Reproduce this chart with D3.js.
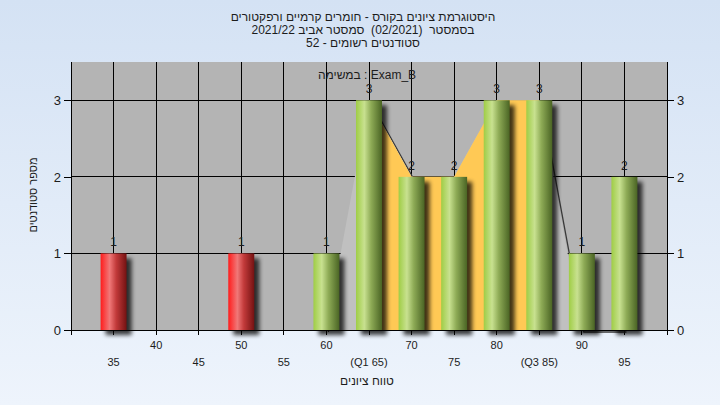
<!DOCTYPE html>
<html>
<head>
<meta charset="utf-8">
<script src="https://cdn.jsdelivr.net/npm/d3@7/dist/d3.min.js"></script>
<style>
  html, body { margin: 0; padding: 0; }
  body { width: 720px; height: 405px; overflow: hidden; }
  text { font-family: "Liberation Sans", Arial, "DejaVu Sans", sans-serif; fill: #1c1c1c; }
</style>
</head>
<body>
<svg id="chart" width="720" height="405"></svg>
<script>
// ---------- data ----------
const titleLines = [
  "היסטוגרמת ציונים בקורס - חומרים קרמיים ורפקטורים",
  "בסמסטר  (02/2021)  סמסטר אביב 2021/22",
  "סטודנטים רשומים - 52"
];
const categories = [35, 40, 45, 50, 55, 60, 65, 70, 75, 80, 85, 90, 95];
const counts     = [1, 0, 0, 1, 0, 1, 3, 2, 2, 3, 3, 1, 2];
const xTickLabels = ["35", "40", "45", "50", "55", "60", "(Q1 65)", "70", "75", "80", "(Q3 85)", "90", "95"];
const areaCategories = [60, 65, 70, 75, 80, 85, 90, 95];
const areaValues     = [0, 3, 2, 2, 3, 3, 0, 0];
const q1 = 65, q3 = 85;
const passMark = 55;
const yTicks = [0, 1, 2, 3];
const xTitle = "טווח ציונים";
const yTitle = "מספר סטודנטים";
const noteText = "במשימה : Exam_B";

// ---------- layout ----------
const svg = d3.select("#chart");
const W = 720, H = 405;
const plot = { left: 71, right: 667, top: 62, bottom: 330 };

const x = d3.scaleLinear().domain([30, 100]).range([plot.left, plot.right]);
const y = d3.scaleLinear().domain([0, 3.5]).range([plot.bottom, plot.top]);
const step = x(40) - x(35);
const barW = step * 0.61;

const defs = svg.append("defs");
const bg = defs.append("linearGradient").attr("id", "bg").attr("x1", 0).attr("y1", 0).attr("x2", 0).attr("y2", 1);
bg.append("stop").attr("offset", "0%").attr("stop-color", "#d4e2f4");
bg.append("stop").attr("offset", "100%").attr("stop-color", "#eef4fc");

function cyl(id, stops) {
  const g = defs.append("linearGradient").attr("id", id).attr("x1", 0).attr("y1", 0).attr("x2", 1).attr("y2", 0);
  stops.forEach(s => g.append("stop").attr("offset", s[0]).attr("stop-color", s[1]));
}
cyl("gGreen", [["0%", "#9fcd45"], ["32%", "#c8e190"], ["58%", "#8eab56"], ["100%", "#4a6424"]]);
cyl("gRed", [["0%", "#ff1c1c"], ["35%", "#f07878"], ["60%", "#c23a3a"], ["100%", "#741212"]]);

const sh = defs.append("filter").attr("id", "shadow").attr("x", "-50%").attr("y", "-20%").attr("width", "200%").attr("height", "140%");
sh.append("feGaussianBlur").attr("stdDeviation", 2);

defs.append("clipPath").attr("id", "plotClip").append("rect")
  .attr("x", plot.left).attr("y", plot.top).attr("width", plot.right - plot.left).attr("height", plot.bottom - plot.top);
defs.append("clipPath").attr("id", "iqrClip").append("rect")
  .attr("x", x(q1)).attr("y", plot.top).attr("width", x(q3) - x(q1)).attr("height", plot.bottom - plot.top);

svg.append("rect").attr("width", W).attr("height", H).attr("fill", "url(#bg)");
svg.append("rect").attr("x", plot.left).attr("y", plot.top)
  .attr("width", plot.right - plot.left).attr("height", plot.bottom - plot.top).attr("fill", "#b4b4b4");

// gridlines
const grid = svg.append("g").attr("stroke", "#000").attr("stroke-width", 1).attr("shape-rendering", "crispEdges");
yTicks.filter(t => t > 0).forEach(t => {
  grid.append("line").attr("x1", plot.left).attr("x2", plot.right).attr("y1", y(t)).attr("y2", y(t));
});
categories.forEach(c => {
  grid.append("line").attr("x1", x(c)).attr("x2", x(c)).attr("y1", plot.top).attr("y2", plot.bottom + 5);
});

// area series with shadow line
const areaData = areaCategories.map((c, i) => ({ c, v: areaValues[i] }));
const lineGen = d3.line().x(d => x(d.c)).y(d => y(d.v));
const areaGen = d3.area().x(d => x(d.c)).y0(y(0)).y1(d => y(d.v));
svg.append("path").attr("d", lineGen(areaData)).attr("transform", "translate(2,2)")
  .attr("fill", "none").attr("stroke", "#3a3a3a").attr("stroke-width", 1.3);
svg.append("path").attr("d", areaGen(areaData)).attr("fill", "#c0c0c0");
svg.append("path").attr("d", areaGen(areaData)).attr("fill", "#ffc955").attr("clip-path", "url(#iqrClip)");

// bars
const barData = categories.map((c, i) => ({ c, v: counts[i] })).filter(d => d.v > 0);
svg.append("g").selectAll("rect").data(barData).join("rect")
  .attr("x", d => x(d.c) - barW / 2 + 5).attr("y", d => y(d.v) + 5)
  .attr("width", barW).attr("height", d => y(0) - y(d.v))
  .attr("fill", "#000").attr("opacity", 0.75).attr("filter", "url(#shadow)");
svg.append("g").selectAll("rect").data(barData).join("rect")
  .attr("x", d => x(d.c) - barW / 2).attr("y", d => y(d.v))
  .attr("width", barW).attr("height", d => y(0) - y(d.v))
  .attr("fill", d => d.c < passMark ? "url(#gRed)" : "url(#gGreen)");

// value labels
svg.append("g").selectAll("text").data(barData).join("text")
  .attr("x", d => x(d.c)).attr("y", d => y(d.v) - 7)
  .attr("text-anchor", "middle").attr("font-size", 12).text(d => d.v);

// axes lines
const ax = svg.append("g").attr("stroke", "#000").attr("stroke-width", 1).attr("shape-rendering", "crispEdges");
ax.append("line").attr("x1", plot.left).attr("x2", plot.left).attr("y1", plot.top).attr("y2", plot.bottom + 5);
ax.append("line").attr("x1", plot.right).attr("x2", plot.right).attr("y1", plot.top).attr("y2", plot.bottom + 5);
ax.append("line").attr("x1", plot.left).attr("x2", plot.right).attr("y1", plot.bottom).attr("y2", plot.bottom);

// y axes via d3
const yLeft = d3.axisLeft(y).tickValues(yTicks).tickSize(7).tickPadding(3).tickFormat(d3.format("d"));
const yRight = d3.axisRight(y).tickValues(yTicks).tickSize(7).tickPadding(3).tickFormat(d3.format("d"));
const gl = svg.append("g").attr("transform", `translate(${plot.left},0)`).call(yLeft);
const gr = svg.append("g").attr("transform", `translate(${plot.right},0)`).call(yRight);
[gl, gr].forEach(g => {
  g.select(".domain").remove();
  g.selectAll("line").attr("stroke", "#000").attr("shape-rendering", "crispEdges");
  g.selectAll("text").attr("font-size", 13).attr("fill", "#1c1c1c")
    .attr("font-family", '"Liberation Sans", Arial, sans-serif');
});

// x tick labels (staggered)
svg.append("g").selectAll("text").data(categories).join("text")
  .attr("x", d => x(d))
  .attr("y", (d, i) => i % 2 === 1 ? 349 : 366)
  .attr("text-anchor", "middle").attr("font-size", 11)
  .text((d, i) => xTickLabels[i]);

// titles
svg.append("g").selectAll("text").data(titleLines).join("text")
  .attr("x", 363).attr("y", (d, i) => 21 + i * 13)
  .attr("text-anchor", "middle").attr("direction", "rtl")
  .style("white-space", "pre").attr("font-size", 12).text(d => d);

svg.append("text").attr("x", 367).attr("y", 385).attr("text-anchor", "middle")
  .attr("direction", "rtl").attr("font-size", 12).text(xTitle);
svg.append("text").attr("transform", "translate(37,195) rotate(-90)")
  .attr("text-anchor", "middle").attr("direction", "rtl").attr("font-size", 11).text(yTitle);

svg.append("text").attr("x", 367).attr("y", 79).attr("text-anchor", "middle")
  .attr("direction", "ltr").attr("font-size", 12).text(noteText);
</script>
</body>
</html>
